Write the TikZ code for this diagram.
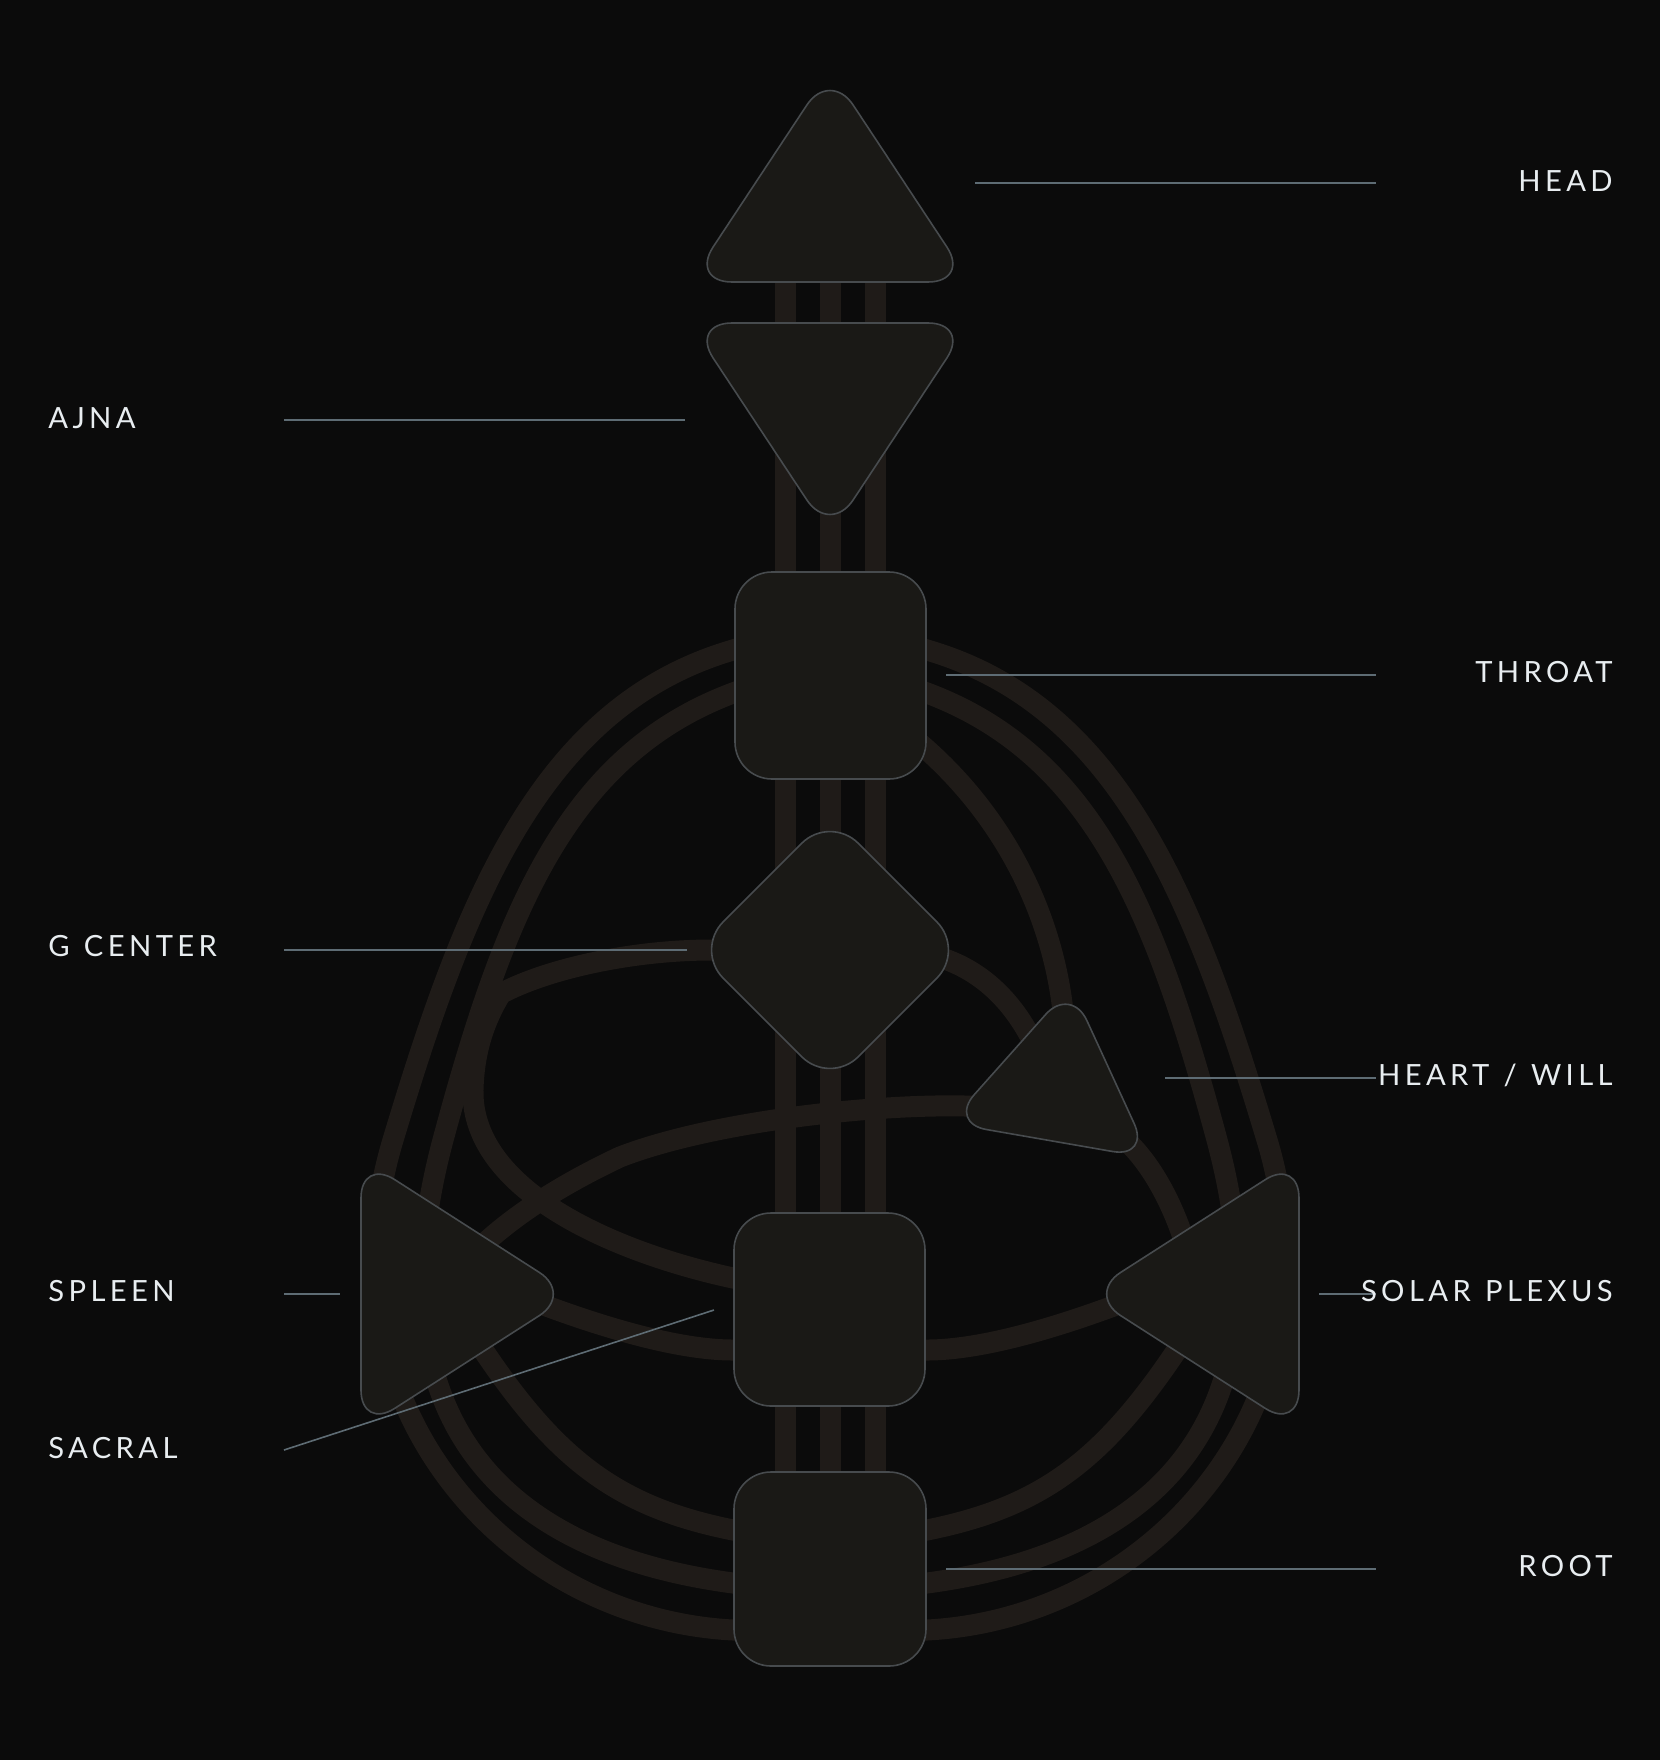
\documentclass[tikz,border=0pt]{standalone}
\usepackage{fontspec}
\usetikzlibrary{calc}
\newfontfamily\namefont[LetterSpace=15,WordSpace=1.2]{Lato}
\definecolor{bg}{HTML}{0B0B0B}
\definecolor{chan}{HTML}{1F1B18}
\definecolor{body}{HTML}{1A1916}
\definecolor{edge}{HTML}{474B4E}
\definecolor{lead}{HTML}{5E6C74}
\definecolor{ink}{HTML}{E8EDF0}

\begin{document}
\begin{tikzpicture}[x=0.5pt, y=-0.5pt,
  channel/.style={draw=chan, line width=10.5pt},
  centre/.style={draw=edge, fill=body, line width=0.8pt},
  leader/.style={draw=lead, line width=0.8pt},
  nametext/.style={text=ink, inner sep=0pt, text height=10.5pt, text depth=0pt,
    font=\namefont\fontsize{14.6pt}{16pt}\selectfont}]

  \fill[bg] (-830,0) rectangle (830,1760);
  \useasboundingbox (-830,0) rectangle (830,1760);

  % centres
  \coordinate (head) at (0,187);
  \coordinate (ajna) at (0,417);
  \coordinate (throat) at (0,675);
  \coordinate (g) at (0,950);
  \coordinate (heart) at (230,1089);
  \coordinate (spleen) at (-399,1294);
  \coordinate (solar) at (399,1294);
  \coordinate (sacral) at (0,1310);
  \coordinate (root) at (0,1569);

  % channels
  \foreach \dx in {-45,0,45}
    \draw[channel] ($(head)+(\dx,0)$) -- ($(root)+(\dx,0)$);

  \foreach \s/\side in {1/spleen,-1/solar}{
    \begin{scope}[xscale=\s]
      \draw[channel] ($(throat)+(-40,-42)$) -- (-97,650) .. controls (-289,706) and (-365,900)
        .. (-437,1140) .. controls (-515,1399) and (-327,1618) .. (-97,1630) -- ($(root)+(-40,63)$);
      \draw[channel] ($(throat)+(-40,-3)$) -- (-97,693) .. controls (-265,756) and (-327,917)
        .. (-387,1140) .. controls (-457,1402) and (-345,1550) .. (-97,1583) -- ($(root)+(-40,16)$);
      \draw[channel] ($(\side)+(39,36)$) .. controls (-279,1456) and (-217,1506) .. (-97,1530)
        -- ($(root)+(-40,-38)$);
      \draw[channel] ($(\side)+(79,-2)$) .. controls (-250,1320) and (-160,1350) .. (-97,1350)
        -- ($(sacral)+(-40,41)$);
    \end{scope}
  }

  \draw[channel] ($(g)+(-60,0)$) -- (-118,950) .. controls (-200,950) and (-290,970) .. (-337,998);
  \draw[channel] ($(sacral)+(-40,-31)$) -- (-97,1278) .. controls (-217,1252) and (-359,1190)
    .. (-357,1090) .. controls (-356,1050) and (-345,1020) .. (-330,995);
  \draw[channel] ($(heart)+(-60,17)$) -- (135,1106) .. controls (40,1104) and (-120,1122)
    .. (-210,1157) .. controls (-280,1190) and (-340,1230) .. ($(spleen)+(24,-19)$);
  \draw[channel] ($(throat)+(60,45)$) .. controls (185,810) and (232,940) .. ($(heart)+(5,-49)$);
  \draw[channel] ($(g)+(60,0)$) .. controls (140,950) and (190,1000) .. ($(heart)+(-15,-19)$);
  \draw[channel] ($(heart)+(60,46)$) .. controls (320,1160) and (345,1205) .. ($(solar)+(-39,-34)$);

  \draw[centre, rounded corners=21pt] (head) ++(0,95) -- ++(140,0) -- ++(-140,-212)
    -- ++(-140,212) -- cycle;
  \draw[centre, rounded corners=21pt] (ajna) ++(0,-94) -- ++(140,0) -- ++(-140,212)
    -- ++(-140,-212) -- cycle;
  \draw[centre, rounded corners=18.5pt] ($(throat)+(-95,-103)$) rectangle ++(191,207);
  \draw[centre, rounded corners=20pt] (g) ++(67.5,-67.5) -- ++(67.5,67.5) -- ++(-135,135)
    -- ++(-135,-135) -- ++(135,-135) -- cycle;
  \draw[centre, rounded corners=19pt] (heart) ++(-50,-34.5) -- ++(61,-68.5) -- ++(79,172)
    -- ++(-201,-35) -- cycle;
  \draw[centre, rounded corners=20pt] (spleen) ++(-70,0) -- ++(0,-136) -- ++(212,136)
    -- ++(-212,136) -- cycle;
  \draw[centre, rounded corners=20pt] (solar) ++(70,0) -- ++(0,-136) -- ++(-212,136)
    -- ++(212,136) -- cycle;
  \draw[centre, rounded corners=18.5pt] ($(sacral)+(-96,-97)$) rectangle ++(191,193);
  \draw[centre, rounded corners=18.5pt] ($(root)+(-96,-97)$) rectangle ++(192,194);

  % leaders
  \draw[leader] ($(head)+(145,-4)$) -- ++(401,0);
  \draw[leader] ($(ajna)+(-145,3)$) -- ++(-401,0);
  \draw[leader] ($(throat)+(116,0)$) -- ++(430,0);
  \draw[leader] ($(g)+(-143,0)$) -- ++(-403,0);
  \draw[leader] ($(heart)+(105,-11)$) -- ++(211,0);
  \draw[leader] ($(spleen)+(-91,0)$) -- ++(-56,0);
  \draw[leader] ($(solar)+(90,0)$) -- ++(57,0);
  \draw[leader] ($(sacral)+(-116,0)$) -- ++(-430,140);
  \draw[leader] ($(root)+(116,0)$) -- ++(430,0);

  \node[nametext, anchor=east] (head name) at (783,181) {HEAD};
  \node[nametext, anchor=west] (ajna name) at (-782,418) {AJNA};
  \node[nametext, anchor=east] (throat name) at (783,672) {THROAT};
  \node[nametext, anchor=west] (g name) at (-782,946) {G CENTER};
  \node[nametext, anchor=east] (heart name) at (783,1075) {HEART / WILL};
  \node[nametext, anchor=west] (spleen name) at (-782,1291) {SPLEEN};
  \node[nametext, anchor=east] (solar name) at (783,1291) {SOLAR PLEXUS};
  \node[nametext, anchor=west] (sacral name) at (-782,1448) {SACRAL};
  \node[nametext, anchor=east] (root name) at (783,1566) {ROOT};
\end{tikzpicture}
\end{document}
